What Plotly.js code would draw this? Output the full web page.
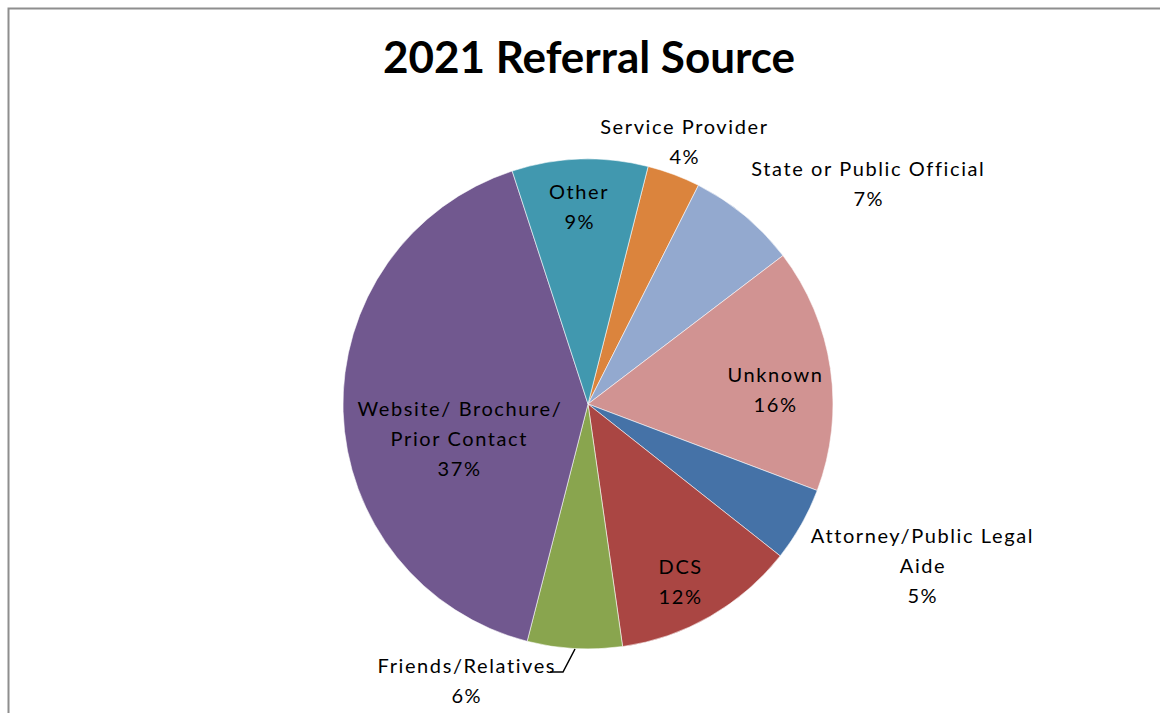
<!DOCTYPE html>
<html>
<head>
<meta charset="utf-8">
<script src="https://cdn.plot.ly/plotly-3.0.1.min.js"></script>
<style>
html,body{margin:0;padding:0;background:#fff;}
#chart{width:1160px;height:713px;}
#chart text.annotation-text{letter-spacing:1.6px;}
</style>
</head>
<body>
<div id="chart"></div>
<script>
// Data (clockwise from the Service Provider slice)
const categories = ["Service Provider", "State or Public Official", "Unknown", "Attorney/Public Legal Aide", "DCS", "Friends/Relatives", "Website/ Brochure/ Prior Contact", "Other"];
const sliceShares = [3.5, 7.2, 16.1, 4.9, 12.1, 6.25, 41.0, 8.95];   // drawn slice sizes
const shownPercents = [4, 7, 16, 5, 12, 6, 37, 9];                 // percentages printed on the chart
const sliceColors = ["#DB843D", "#93A9CF", "#D19392", "#4572A7", "#AA4643", "#89A54E", "#71588F", "#4198AF"];

// Label layout (pixel centres) and line breaks for display
const labelLines = [
  ["Service Provider"],
  ["State or Public Official"],
  ["Unknown"],
  ["Attorney/Public Legal", "Aide"],
  ["DCS"],
  ["Friends/Relatives"],
  ["Website/ Brochure/", "Prior Contact"],
  ["Other"]
];
const labelPx = [[684, 141], [868, 183], [775, 389], [922, 565], [680, 581], [466, 680], [459, 438], [579, 206]];
const LINE_GAP = 30;

const W = 1160, H = 713;
const px = x => x / W, py = y => 1 - y / H;

const cx = 588, cy = 404, r = 245;

const annotations = [];
categories.forEach((c, i) => {
  const lines = labelLines[i].concat([shownPercents[i] + '%']);
  const n = lines.length;
  lines.forEach((ln, k) => {
    annotations.push({
      xref: 'paper', yref: 'paper',
      x: px(labelPx[i][0] + 0.8), y: py(labelPx[i][1] + (k - (n - 1) / 2) * LINE_GAP),
      xanchor: 'center', yanchor: 'middle',
      text: ln,
      showarrow: false,
      font: {family: 'Lato, "Open Sans", sans-serif', size: 20, color: '#000'}
    });
  });
});

const trace = {
  type: 'pie',
  labels: categories,
  values: sliceShares,
  sort: false,
  direction: 'clockwise',
  rotation: 14.2,
  textinfo: 'none',
  hoverinfo: 'label+percent',
  marker: {colors: sliceColors, line: {color: 'rgba(255,255,255,0.7)', width: 0.8}},
  domain: {x: [px(cx - r), px(cx + r)], y: [py(cy + r), py(cy - r)]},
  showlegend: false
};

const layout = {
  width: W, height: H,
  margin: {l: 0, r: 0, t: 0, b: 0},
  paper_bgcolor: '#fff',
  title: {
    text: '<b>2021 Referral Source</b>',
    x: px(589), xanchor: 'center',
    y: py(58), yanchor: 'middle',
    xref: 'paper', yref: 'paper',
    font: {family: 'Lato, "Open Sans", sans-serif', size: 44, color: '#000'}
  },
  annotations: annotations,
  shapes: [
    {type: 'rect', xref: 'paper', yref: 'paper', x0: px(8.5), x1: 1.05, y0: -0.05, y1: py(8.5),
     line: {color: '#8e8e8e', width: 2}, fillcolor: 'rgba(0,0,0,0)'},
    {type: 'path', xref: 'paper', yref: 'paper',
     path: `M ${px(575)} ${py(649)} L ${px(563)} ${py(672)} L ${px(550)} ${py(672)}`,
     line: {color: '#000', width: 1.5}}
  ]
};

Plotly.newPlot('chart', [trace], layout, {displayModeBar: false, staticPlot: true});
</script>
</body>
</html>
